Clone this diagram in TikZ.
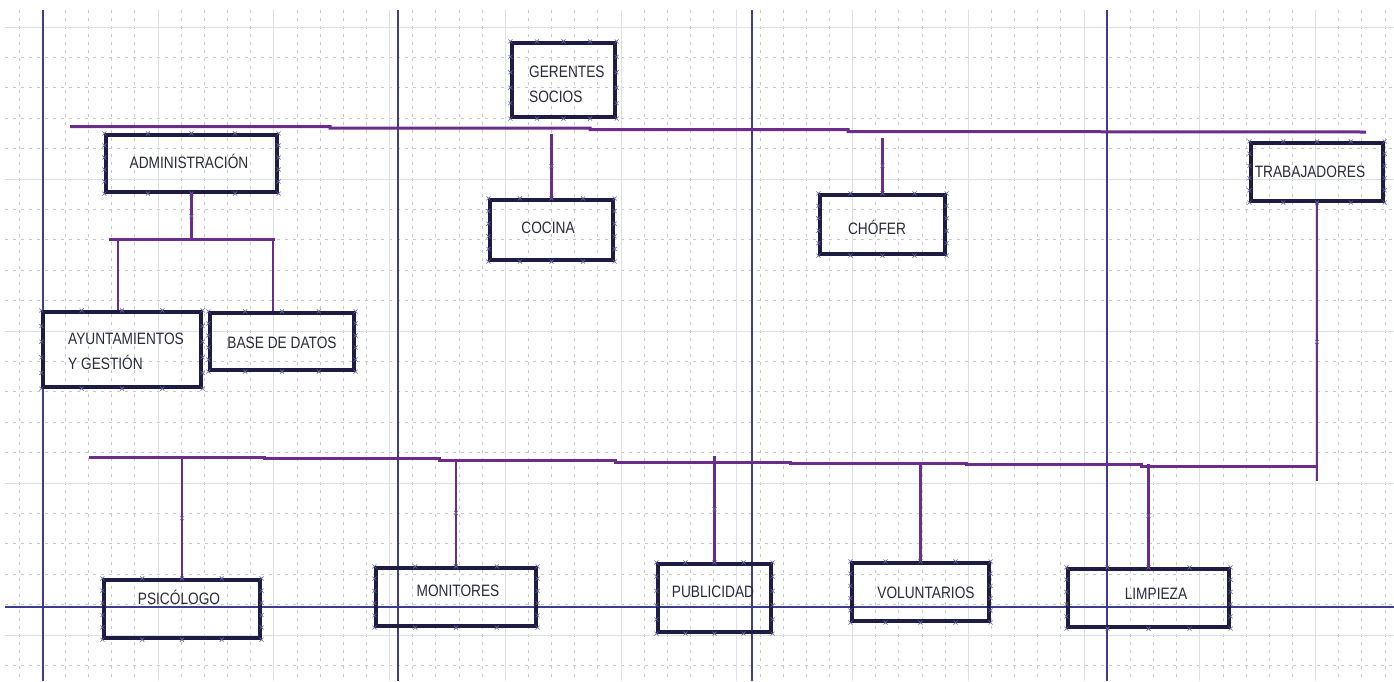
\documentclass[tikz,border=0pt]{standalone}
\usepackage{fontspec}
\setmainfont[FakeStretch=0.83]{Liberation Sans}
\usetikzlibrary{calc}
\definecolor{guia}{RGB}{62,60,140}
\definecolor{enlaceC}{RGB}{108,44,138}
\definecolor{marco}{RGB}{30,28,66}
\definecolor{letra}{RGB}{42,42,62}
\definecolor{rejillaC}{RGB}{200,200,206}
\definecolor{rejillaD}{RGB}{218,226,232}

\tikzset{
  caja/.style={draw=marco, line width=3.2pt, inner sep=0pt, font=\fontsize{16.5}{25}\selectfont, text=letra},
  txt/.style={inner sep=0pt, font=\fontsize{16.5}{25}\selectfont, text=letra},
  enlace/.style={draw=enlaceC, line width=3pt},
  bajada/.style={draw=enlaceC, line width=2.4pt},
  guiaL/.style={draw=guia, line width=1.3pt},
  rejilla/.style={draw=rejillaC, line width=.8pt, dash pattern=on 3pt off 5pt},
  rejillab/.style={draw=rejillaD, line width=1pt},
  aspa/.pic={\draw[guia!80, line width=.6pt] (-2,-2) -- (2,2) (-2,2) -- (2,-2);}
}

\begin{document}
\begin{tikzpicture}[x=1pt,y=-1pt]
\useasboundingbox (0,0) rectangle (1394,681);
\fill[white] (0,0) rectangle (1394,681);

% rejilla
\foreach \i in {0,...,59} {
\draw[rejilla] ({19.1+23.15*\i},10) -- ++(0,671);}
\foreach \j in {0,...,21} {
\draw[rejilla] (5,{27+30.4*\j}) -- (1394,{27+30.4*\j});}
\foreach \i in {0,...,11} {
\draw[rejillab] ({42.25+115.75*\i},10) -- ++(0,671);}
\foreach \j in {0,...,4} {
\draw[rejillab] (5,{27+152*\j}) -- (1394,{27+152*\j});}

% guias
\foreach \gx in {43,398,752,1107} {
\draw[guiaL] (\gx,10) -- (\gx,681);}
\draw[guiaL] (5,607) -- (1394,607);

% cajas
\node[caja, minimum width=103pt, minimum height=74pt] (gerentes) at (563.5,80) {};
\node[txt, anchor=west, align=left] (gerentesT) at (529,84) {GERENTES\\SOCIOS};
\node[caja, minimum width=171pt, minimum height=57pt] (admin) at (191.5,163.5) {};
\node[txt] (adminT) at (189,161) {ADMINISTRACIÓN};
\node[caja, minimum width=123pt, minimum height=60pt] (cocina) at (551.5,230) {};
\node[txt] (cocinaT) at (548,228) {COCINA};
\node[caja, minimum width=125pt, minimum height=59pt] (chofer) at (882.5,224.5) {};
\node[txt] (choferT) at (877,227) {CHÓFER};
\node[caja, minimum width=132pt, minimum height=58pt] (trabaj) at (1317,172) {};
\node[txt] (trabajT) at (1310,172) {TRABAJADORES};
\node[caja, minimum width=158pt, minimum height=75pt] (ayunt) at (122,349.5) {};
\node[txt, anchor=west, align=left] (ayuntT) at (68,351) {AYUNTAMIENTOS\\Y GESTIÓN};
\node[caja, minimum width=144pt, minimum height=57pt] (base) at (282,341.5) {};
\node[txt] (baseT) at (282,343) {BASE DE DATOS};

\node[caja, minimum width=156pt, minimum height=58pt] (psico) at (182,609) {};
\node[txt] (psicoT) at (179,597) {PSICÓLOGO};
\node[caja, minimum width=160pt, minimum height=58pt] (monit) at (456,597) {};
\node[txt] (monitT) at (458,591) {MONITORES};
\node[caja, minimum width=113pt, minimum height=68pt] (publi) at (714.5,598) {};
\node[txt] (publiT) at (713,592) {PUBLICIDAD};
\node[caja, minimum width=137pt, minimum height=58pt] (volun) at (920.5,592) {};
\node[txt] (volunT) at (926,593) {VOLUNTARIOS};
\node[caja, minimum width=161pt, minimum height=58pt] (limp) at (1148.5,598) {};
\node[txt] (limpT) at (1156,594) {LIMPIEZA};

% marcas de seleccion
\foreach \n in {gerentes,admin,cocina,chofer,trabaj,ayunt,base,psico,monit,publi,volun,limp} {
\foreach \t in {0,.25,.5,.75,1} {
\pic at ($(\n.north west)!\t!(\n.north east)$) {aspa};
\pic at ($(\n.south west)!\t!(\n.south east)$) {aspa};}
\foreach \t in {.2,.4,.6,.8} {
\pic at ($(\n.north west)!\t!(\n.south west)$) {aspa};
\pic at ($(\n.north east)!\t!(\n.south east)$) {aspa};}
}

% linea superior
\coordinate (arribaA) at (70,126.5);
\coordinate (arribaB) at (1366,132);
\draw[enlace] (arribaA) -- (330,126.5) -- (330,128) -- (590,128) -- (590,129.5)
  -- (848,129.5) -- (848,131.5) -- (arribaB);
\draw[bajada] (cocina.north) -- (cocina.north |- 0,134) pic[pos=.5]{aspa};
\draw[bajada] (chofer.north) -- (chofer.north |- 0,138) pic[pos=.5]{aspa};

% administracion
\coordinate (ad0) at (191.5,239);
\coordinate (ad1) at (118,239);
\coordinate (ad2) at (273,239);
\draw[bajada] (admin.south) -- (ad0) pic[pos=.5]{aspa};
\draw[enlace] (109,239) -- (275,239);
\draw[bajada] (ad1) -- (ad1 |- ayunt.north);
\draw[bajada] (ad2) -- (ad2 |- base.north);

% linea inferior
\coordinate (abajoA) at (89,457);
\coordinate (abajoB) at (1317,466);
\draw[enlace] (abajoA) -- (264,457) -- (264,458.5) -- (439,458.5) -- (439,460)
  -- (615,460) -- (615,462) -- (790,462) -- (790,463) -- (966,463) -- (966,464)
  -- (1141,464) -- (1141,466) -- (abajoB);
\coordinate (finT) at (1318,481);
\draw[bajada] (trabaj.south) -- (trabaj.south |- finT) pic[pos=.5]{aspa};
\draw[bajada] (psico.north) -- (psico.north |- 0,458) pic[pos=.5]{aspa};
\draw[bajada] (monit.north) -- (monit.north |- 0,459.5) pic[pos=.5]{aspa};
\draw[bajada] (publi.north) -- (publi.north |- 0,456) pic[pos=.5]{aspa};
\draw[bajada] (volun.north) -- (volun.north |- 0,463);
\draw[bajada] (limp.north) -- (limp.north |- 0,464) pic[pos=.5]{aspa};
\end{tikzpicture}
\end{document}
